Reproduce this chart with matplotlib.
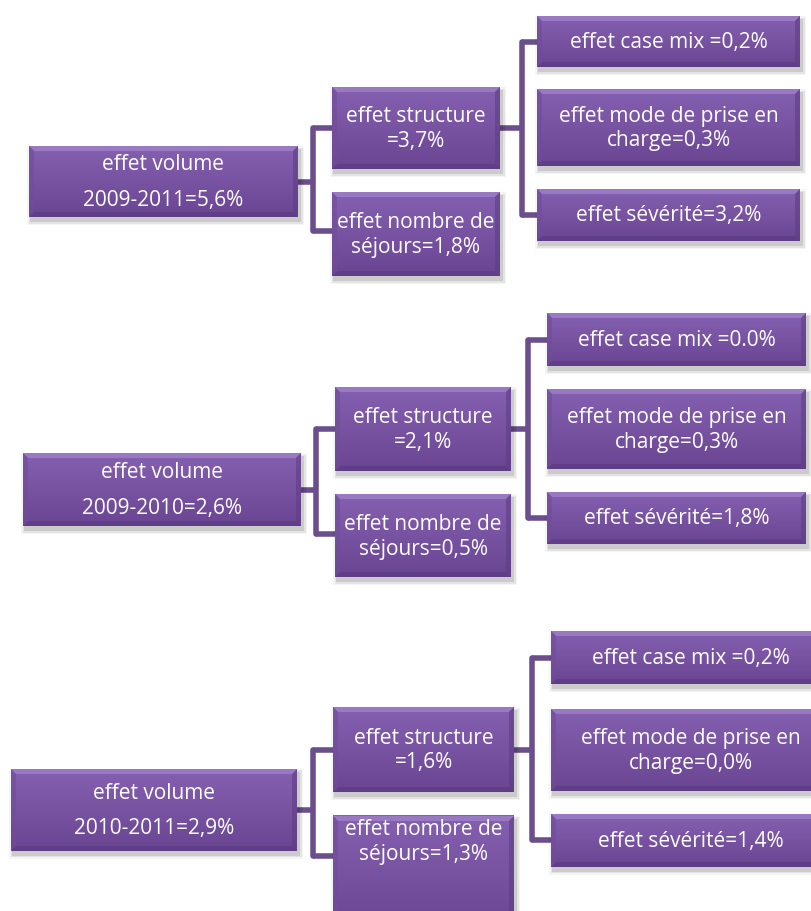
import matplotlib
matplotlib.use("Agg")
import matplotlib.pyplot as plt
import numpy as np
from matplotlib.colors import LinearSegmentedColormap
from matplotlib.patches import Rectangle, Polygon

# labels of the three decomposition trees
roots = ["effet volume\n2009-2011=5,6%",
         "effet volume\n2009-2010=2,6%",
         "effet volume\n2010-2011=2,9%"]
structure = ["effet structure\n=3,7%", "effet structure\n=2,1%", "effet structure\n=1,6%"]
sejours = ["effet nombre de\nséjours=1,8%", "effet nombre de\nséjours=0,5%", "effet nombre de\nséjours=1,3%"]
case_mix = ["effet case mix =0,2%", "effet case mix =0.0%", "effet case mix =0,2%"]
mode_prise = ["effet mode de prise en\ncharge=0,3%", "effet mode de prise en\ncharge=0,3%",
              "effet mode de prise en\ncharge=0,0%"]
severite = ["effet sévérité=3,2%", "effet sévérité=1,8%", "effet sévérité=1,4%"]

# layout (pixels): boxes (x0, y0, x1, y1) per tree
root_box = [(29, 147, 298, 218), (23, 454, 301, 527), (11, 770, 297, 852)]
struct_box = [(332, 88, 500, 170), (335, 388, 511, 472), (333, 708, 514, 793)]
sej_box = [(332, 193, 500, 277), (335, 495, 511, 578), (333, 817, 514, 930)]
sej_text_y = [235, 537, 842]
cm_box = [(537, 17, 800, 68), (547, 314, 806, 367), (551, 632, 830, 685)]
mode_box = [(537, 90, 800, 167), (547, 390, 806, 470), (551, 710, 830, 792)]
sev_box = [(537, 190, 800, 242), (547, 493, 806, 545), (551, 815, 830, 868)]
left_x = [313, 316, 313]
right_x = [522, 528, 532]

FONT = ["Open Sans", "DejaVu Sans"]
LINE = "#6b4f8c"
cmap = LinearSegmentedColormap.from_list("purp", ["#8460b0", "#7853a2", "#6a4592"])

fig = plt.figure(figsize=(8.11, 9.12), dpi=100)
ax = fig.add_axes([0, 0, 1, 1])


def draw_box(b, label, ty=None, ls=1.2):
    x0, y0, x1, y1 = b
    w, h = x1 - x0, y1 - y0
    # soft shadow
    for k, a in [(5, 0.04), (3.5, 0.07), (2, 0.1)]:
        ax.add_patch(Rectangle((x0 - k + 3, y0 - k + 5), w + 2 * k - 2, h + 2 * k - 2,
                               color="black", alpha=a, lw=0, zorder=1))
    grad = np.linspace(0, 1, 64).reshape(-1, 1)
    ax.imshow(grad, extent=(x0, x1, y1, y0), cmap=cmap, aspect="auto", zorder=2,
              interpolation="bilinear")
    bv = 5
    ax.add_patch(Polygon([(x0, y0), (x1, y0), (x1 - bv, y0 + bv), (x0 + bv, y0 + bv)],
                         color="#a183c8", alpha=0.75, lw=0, zorder=3))
    ax.add_patch(Polygon([(x0, y1), (x1, y1), (x1 - bv, y1 - bv), (x0 + bv, y1 - bv)],
                         color="#5a3a80", alpha=0.6, lw=0, zorder=3))
    ax.add_patch(Polygon([(x0, y0), (x0 + bv, y0 + bv), (x0 + bv, y1 - bv), (x0, y1)],
                         color="#6f4c98", alpha=0.6, lw=0, zorder=3))
    ax.add_patch(Polygon([(x1, y0), (x1 - bv, y0 + bv), (x1 - bv, y1 - bv), (x1, y1)],
                         color="#5e3d84", alpha=0.6, lw=0, zorder=3))
    if ty is None:
        ty = (y0 + y1) / 2
    ax.text((x0 + x1) / 2, ty, label, color="white", fontsize=15, family=FONT,
            ha="center", va="center", linespacing=ls, zorder=4)


def connector(x_from, y_from, x_mid, ys, x_to):
    kw = dict(color=LINE, lw=4, solid_capstyle="butt", zorder=0.5)
    ax.plot([x_from, x_mid], [y_from, y_from], **kw)
    ax.plot([x_mid, x_mid], [min(ys), max(ys)], color=LINE, lw=4,
            solid_capstyle="round", zorder=0.5)
    for y in ys:
        ax.plot([x_mid, x_to], [y, y], **kw)


for i in range(3):
    rb, sb, jb = root_box[i], struct_box[i], sej_box[i]
    cb, mb, vb = cm_box[i], mode_box[i], sev_box[i]
    s_mid = (sb[1] + sb[3]) / 2
    j_top = jb[1] + (sb[3] - sb[1]) / 2 - 2
    connector(rb[2], (rb[1] + rb[3]) / 2, left_x[i], [s_mid, j_top], sb[0])
    connector(sb[2], s_mid, right_x[i],
              [(cb[1] + cb[3]) / 2, (vb[1] + vb[3]) / 2], cb[0])
    draw_box(rb, roots[i], ls=1.9)
    draw_box(sb, structure[i])
    draw_box(jb, sejours[i], ty=sej_text_y[i])
    draw_box(cb, case_mix[i])
    draw_box(mb, mode_prise[i])
    draw_box(vb, severite[i])

ax.set_xlim(0, 811)
ax.set_ylim(912, 0)
ax.axis("off")
fig.savefig("out.png", dpi=100)
